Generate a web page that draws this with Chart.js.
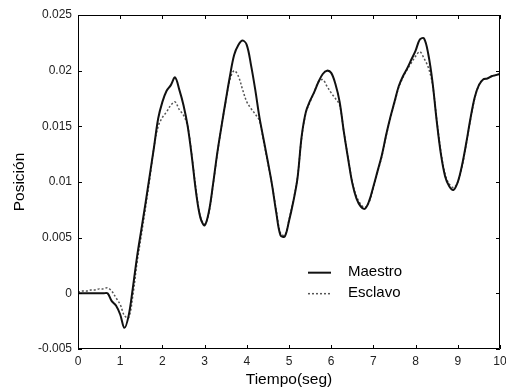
<!DOCTYPE html>
<html>
<head>
<meta charset="utf-8">
<script src="https://cdn.jsdelivr.net/npm/chart.js@4/dist/chart.umd.min.js"></script>
<style>
  html, body { margin: 0; padding: 0; background: #fff; }
  #contenedor { width: 506px; height: 389px; }
</style>
</head>
<body>
<div id="contenedor"><canvas id="graficoPosicion"></canvas></div>
<script>
// datos
const tiempo = [
  0.0, 0.1, 0.2, 0.3, 0.4, 0.5, 0.6, 0.7, 0.8, 0.9,
  1.0, 1.1, 1.2, 1.3, 1.4, 1.5, 1.6, 1.7, 1.8, 1.9,
  2.0, 2.1, 2.2, 2.3, 2.4, 2.5, 2.6, 2.7, 2.8, 2.9,
  3.0, 3.1, 3.2, 3.3, 3.4, 3.5, 3.6, 3.7, 3.8, 3.9,
  4.0, 4.1, 4.2, 4.3, 4.4, 4.5, 4.6, 4.7, 4.8, 4.9,
  5.0, 5.1, 5.2, 5.3, 5.4, 5.5, 5.6, 5.7, 5.8, 5.9,
  6.0, 6.1, 6.2, 6.3, 6.4, 6.5, 6.6, 6.7, 6.8, 6.9,
  7.0, 7.1, 7.2, 7.3, 7.4, 7.5, 7.6, 7.7, 7.8, 7.9,
  8.0, 8.1, 8.2, 8.3, 8.4, 8.5, 8.6, 8.7, 8.8, 8.9,
  9.0, 9.1, 9.2, 9.3, 9.4, 9.5, 9.6, 9.7, 9.8, 9.9,
  10.0
];

const maestro = [
  0, 0, 0, 0, 0, 0, 0, 0, -0.0007, -0.0011,
  -0.0019, -0.0031, -0.0020, 0.0005, 0.0033, 0.0057, 0.0081, 0.0106, 0.0131, 0.0157,
  0.0172, 0.0182, 0.0187, 0.0194, 0.0183, 0.0169, 0.0150, 0.0122, 0.0090, 0.0068,
  0.0061, 0.0073, 0.0098, 0.0126, 0.0150, 0.0173, 0.0195, 0.0214, 0.0223, 0.0227,
  0.0223, 0.0205, 0.0183, 0.0158, 0.0138, 0.0118, 0.0097, 0.0072, 0.0052, 0.0051,
  0.0065, 0.0082, 0.0103, 0.0141, 0.0163, 0.0173, 0.0181, 0.0190, 0.0197, 0.0200,
  0.0198, 0.0188, 0.0172, 0.0145, 0.0121, 0.0099, 0.0085, 0.0078, 0.0076, 0.0083,
  0.0096, 0.0110, 0.0124, 0.0142, 0.0158, 0.0172, 0.0186, 0.0195, 0.0202, 0.0210,
  0.0218, 0.0228, 0.0229, 0.0215, 0.0190, 0.0155, 0.0125, 0.0105, 0.0096, 0.0093,
  0.0100, 0.0115, 0.0135, 0.0157, 0.0176, 0.0187, 0.0192, 0.0193, 0.0195, 0.0196,
  0.0197
];

const esclavo = [
  0.0001, 0.0002, 0.0002, 0.0003, 0.0003, 0.0004, 0.0004, 0.0005, 0.0002, -0.0004,
  -0.0010, -0.0020, -0.0022, -0.0002, 0.0028, 0.0052, 0.0077, 0.0103, 0.0131, 0.0150,
  0.0158, 0.0163, 0.0169, 0.0172, 0.0165, 0.0160, 0.0150, 0.0123, 0.0092, 0.0069,
  0.0062, 0.0072, 0.0097, 0.0125, 0.0150, 0.0172, 0.0192, 0.0200, 0.0195, 0.0183,
  0.0172, 0.0166, 0.0161, 0.0155, 0.0136, 0.0117, 0.0097, 0.0074, 0.0054, 0.0052,
  0.0066, 0.0083, 0.0104, 0.0140, 0.0162, 0.0172, 0.0181, 0.0190, 0.0192, 0.0186,
  0.0180, 0.0175, 0.0169, 0.0145, 0.0122, 0.0100, 0.0087, 0.0080, 0.0077, 0.0082,
  0.0095, 0.0109, 0.0123, 0.0141, 0.0157, 0.0171, 0.0185, 0.0194, 0.0201, 0.0207,
  0.0213, 0.0217, 0.0211, 0.0203, 0.0188, 0.0156, 0.0127, 0.0107, 0.0098, 0.0095,
  0.0100, 0.0114, 0.0134, 0.0156, 0.0175, 0.0187, 0.0192, 0.0193, 0.0195, 0.0196,
  0.0197
];

const ticksX = [0, 1, 2, 3, 4, 5, 6, 7, 8, 9, 10];
const ticksY = [-0.005, 0, 0.005, 0.01, 0.015, 0.02, 0.025];

const fuente = "'Liberation Sans', Arial, sans-serif";

// marco con marcas hacia dentro en los cuatro lados + leyenda dentro del area
const marco = {
    id: 'marco',
    afterDraw(chart) {
        const ctx = chart.ctx;
        const a = chart.chartArea;
        const sx = chart.scales.x;
        const sy = chart.scales.y;
        const largo = 4;
        ctx.save();
        ctx.strokeStyle = '#000';
        ctx.lineWidth = 1;
        ctx.beginPath();
        ctx.rect(a.left + 0.5, a.top + 0.5, a.right - a.left - 1, a.bottom - a.top - 1);
        ctx.stroke();
        ctx.beginPath();
        ticksX.forEach(v => {
            const px = Math.round(sx.getPixelForValue(v)) + 0.5;
            ctx.moveTo(px, a.bottom);
            ctx.lineTo(px, a.bottom - largo);
            ctx.moveTo(px, a.top);
            ctx.lineTo(px, a.top + largo);
        });
        ticksY.forEach(v => {
            const py = Math.round(sy.getPixelForValue(v)) + 0.5;
            ctx.moveTo(a.left, py);
            ctx.lineTo(a.left + largo, py);
            ctx.moveTo(a.right, py);
            ctx.lineTo(a.right - largo, py);
        });
        ctx.stroke();

        // leyenda
        const lx = sx.getPixelForValue(5.45);
        const ly = sy.getPixelForValue(0.0019);
        ctx.font = '15px ' + fuente;
        ctx.fillStyle = '#000';
        ctx.textBaseline = 'middle';
        chart.data.datasets.forEach((ds, i) => {
            const y = ly + i * 21;
            ctx.strokeStyle = ds.borderColor;
            ctx.lineWidth = ds.borderWidth;
            ctx.setLineDash(ds.borderDash || []);
            ctx.beginPath();
            ctx.moveTo(lx, y + 0.5);
            ctx.lineTo(lx + 23, y + 0.5);
            ctx.stroke();
            ctx.setLineDash([]);
            ctx.fillText(ds.label, lx + 40, y);
        });
        ctx.restore();
    }
};

const ctx = document.getElementById('graficoPosicion').getContext('2d');

new Chart(ctx, {
    type: 'line',
    data: {
        labels: tiempo,
        datasets: [{
            label: 'Maestro',
            data: tiempo.map((t, i) => ({ x: t, y: maestro[i] })),
            borderColor: '#111',
            borderWidth: 2,
            pointRadius: 0,
            tension: 0.35,
            fill: false
        }, {
            label: 'Esclavo',
            data: tiempo.map((t, i) => ({ x: t, y: esclavo[i] })),
            borderColor: '#555',
            borderWidth: 1.5,
            borderDash: [2, 2],
            pointRadius: 0,
            tension: 0.35,
            fill: false
        }]
    },
    options: {
        responsive: true,
        maintainAspectRatio: false,
        animation: false,
        layout: {
            padding: { top: 15, right: 6, left: 4, bottom: 0 }
        },
        scales: {
            x: {
                type: 'linear',
                min: 0,
                max: 10,
                afterBuildTicks: s => { s.ticks = ticksX.map(v => ({ value: v })); },
                afterFit: s => { s.height = 40; s.paddingRight = 0; s.paddingLeft = 0; },
                grid: { display: false, drawTicks: false },
                border: { display: false },
                ticks: {
                    color: '#222',
                    padding: 5,
                    maxRotation: 0,
                    font: { family: fuente, size: 12 }
                },
                title: {
                    display: true,
                    text: 'Tiempo(seg)',
                    color: '#000',
                    padding: { top: 2, bottom: 0 },
                    font: { family: fuente, size: 15.5 }
                }
            },
            y: {
                type: 'linear',
                min: -0.005,
                max: 0.025,
                afterBuildTicks: s => { s.ticks = ticksY.map(v => ({ value: v })); },
                afterFit: s => { s.width = 74; s.paddingTop = 0; s.paddingBottom = 0; },
                grid: { display: false, drawTicks: false },
                border: { display: false },
                ticks: {
                    color: '#222',
                    padding: 6,
                    font: { family: fuente, size: 12 },
                    callback: v => String(Math.round(v * 1000) / 1000)
                },
                title: {
                    display: true,
                    text: 'Posición',
                    color: '#000',
                    padding: { top: 6, bottom: 10 },
                    font: { family: fuente, size: 15.5 }
                }
            }
        },
        plugins: {
            legend: { display: false },
            tooltip: { enabled: false }
        }
    },
    plugins: [marco]
});
</script>
</body>
</html>
